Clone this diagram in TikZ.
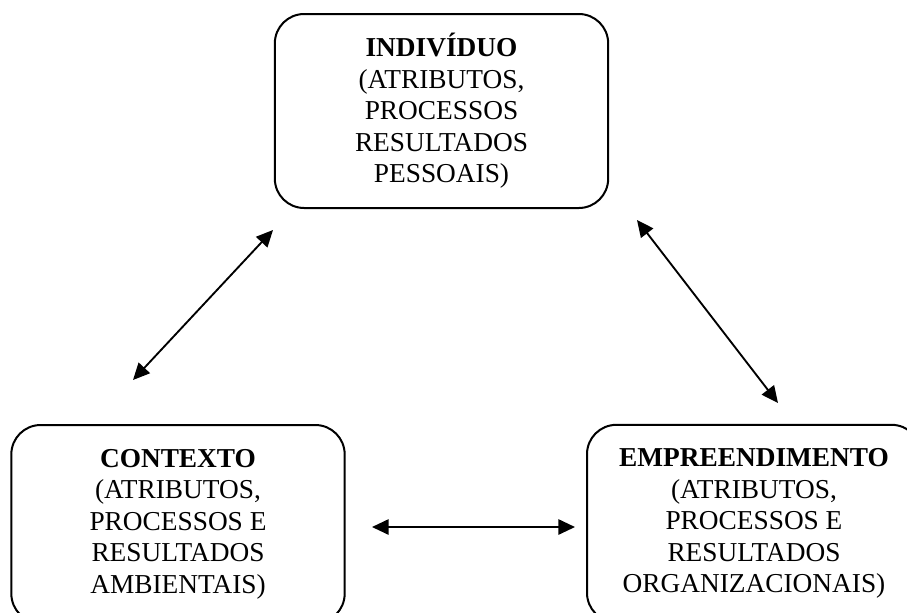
\documentclass[tikz,border=0pt]{standalone}
\usepackage{fontspec}
\setmainfont{Liberation Serif}
\usetikzlibrary{arrows.meta}

\tikzset{
  partbox/.style={draw, line width=1.5pt, rounded corners=22pt, inner sep=0pt,
    align=center, font=\fontsize{20.5pt}{23.6pt}\selectfont},
  link/.style={line width=1.4pt, {Triangle[length=12.5pt,width=11.5pt]}-{Triangle[length=12.5pt,width=11.5pt]}}
}

\begin{document}
\begin{tikzpicture}[x=0.75pt, y=-0.75pt]
    \useasboundingbox (0,0) rectangle (907,612);
  % \draw[help lines, step=50] (0,0) grid (907,612);
\begin{scope}
    \clip (0,0) rectangle (907,612);
    \node[partbox, minimum width=250pt, minimum height=145.5pt] (individuo) at (441.5,111)
        {\textbf{INDIVÍDUO}\\(ATRIBUTOS,\\PROCESSOS\\RESULTADOS\\PESSOAIS)};
    \node[partbox, minimum width=250pt, minimum height=148.5pt] (contexto) at (178,524)
        {\textbf{CONTEXTO}\\(ATRIBUTOS,\\PROCESSOS E\\RESULTADOS\\AMBIENTAIS)};
    \node[partbox, minimum width=250.5pt, minimum height=148pt] (empreend) at (754,523.5)
        {\textbf{EMPREENDIMENTO}\\(ATRIBUTOS,\\PROCESSOS E\\RESULTADOS\\ORGANIZACIONAIS)};
\end{scope}
% free ends of the arrows
    \coordinate (ctx-top) at (133,380);
    \coordinate (ind-left) at (273,230);
    \coordinate (ind-right) at (637,220);
    \coordinate (emp-top) at (778,403);
    \coordinate (ctx-right) at (372,527);
    \coordinate (emp-left) at (575,527);
    \draw[link] (ctx-top) -- (ind-left);
    \draw[link] (ind-right) -- (emp-top);
    \draw[link] (ctx-right) -- (emp-left);
\end{tikzpicture}
\end{document}
